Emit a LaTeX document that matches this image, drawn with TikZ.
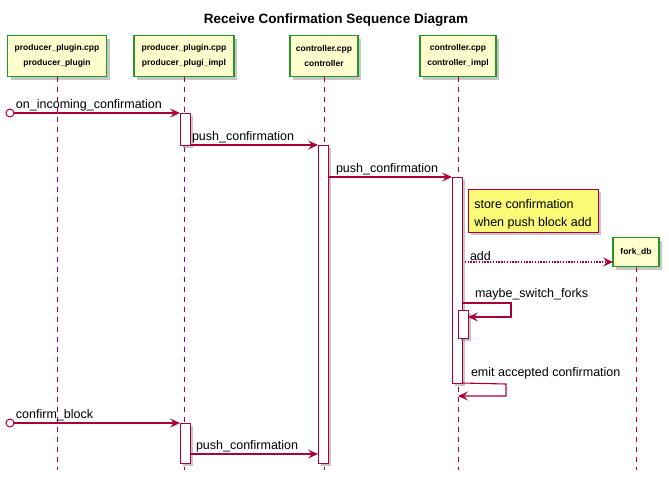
\documentclass[tikz,border=0pt]{standalone}
\usepackage{fontspec}
\setmainfont{Liberation Sans}
\usetikzlibrary{positioning,arrows.meta,shadows}

\definecolor{umlred}{HTML}{A80036}
\definecolor{umlbox}{HTML}{FEFECE}
\definecolor{umlgreen}{HTML}{229922}
\definecolor{umlnote}{HTML}{FBFB77}

\tikzset{umlshadow/.style={drop shadow={opacity=0.45,shadow xshift=3pt,shadow yshift=-3pt}}}

\begin{document}
\begin{tikzpicture}
[x=1pt,y=-1pt,
 every node/.style={inner sep=0pt,outer sep=0pt,font=\fontsize{12.5}{15}\selectfont},
 part/.style={draw=umlgreen,line width=1.1pt,fill=umlbox,align=center,minimum height=41pt,
              font=\bfseries\fontsize{8.5}{14.5}\selectfont,umlshadow},
 act/.style={draw=umlred,fill=white,minimum width=10pt,umlshadow},
 note/.style={draw=umlred,fill=umlnote,align=left,inner xsep=4pt,minimum width=130pt,
              minimum height=43pt,font=\fontsize{12.5}{18}\selectfont,umlshadow},
 start/.style={circle,draw=umlred,fill=white,line width=1pt,minimum size=8pt},
 life/.style={draw=umlred,line width=0.8pt,dash pattern=on 5pt off 5pt},
 msg/.style={draw=umlred,line width=1.1pt,-{Stealth[length=10pt,width=9pt,inset=4pt]}},
 lbl/.style={anchor=south west,xshift=2pt,yshift=2pt}]
\useasboundingbox (0,0) rectangle (669,483);
\node[font=\bfseries\fontsize{13.5}{16}\selectfont] (title) at (336,20) {Receive Confirmation Sequence Diagram};
% participants
\node[part,minimum width=99pt] (pp)   at (57,56)  {producer\_plugin.cpp\\producer\_plugin};
\node[part,minimum width=100pt] (ppi) at (184,56) {producer\_plugin.cpp\\producer\_plugi\_impl};
\node[part,minimum width=68pt] (ctl)  at (324,56) {controller.cpp\\controller};
\node[part,minimum width=76pt] (ctli) at (458,56) {controller.cpp\\controller\_impl};
\coordinate (bot) at (0,470);
% lifelines
\draw[life] (pp)   -- (pp |- bot);
\draw[life] (ppi)  -- (ppi |- bot);
\draw[life] (ctl)  -- (ctl |- bot);
\draw[life] (ctli) -- (ctli |- bot);
% activations
\node[act,anchor=north,minimum height=32pt]  (a1) at (185,113) {};
\node[act,anchor=north,minimum height=318pt] (a2) at (323,145) {};
\node[act,anchor=north,minimum height=206pt] (a3) at (457,177) {};
\node[act,anchor=north,minimum height=40pt]  (a5) at (185,423) {};
% messages
\node[start] (in1) at (10,113) {};
\draw[msg] (in1) -- (a1.north west) node[lbl,pos=0] {on\_incoming\_confirmation};
\draw[msg] (a1.south east) -- (a2.north west) node[lbl,pos=0] {push\_confirmation};
\draw[msg] (a2.east |- a3.north) -- (a3.north west) node[lbl,pos=0,xshift=6pt] {push\_confirmation};
\node[note,anchor=north west] (nt) at (468,189) {\rule{0pt}{16pt}store confirmation\\when push block add};
% fork_db is created by the add message
\node[part,minimum width=46pt,minimum height=29pt,font=\bfseries\fontsize{8.5}{10}\selectfont] (fdb) at (636,252) {fork\_db};
\draw[life] (fdb) -- (fdb |- bot);
\node[act,anchor=north,minimum height=28pt]  (a4) at (463,310) {};
\coordinate (add) at (0,262);
\draw[msg,line width=1.4pt,dash pattern=on 1.4pt off 1.4pt] (a3.east |- add) -- (fdb.west |- add) node[lbl,pos=0,xshift=6pt,yshift=-1pt] {add};
\coordinate (sw1) at (511,303);
\coordinate (sw2) at (511,317);
\draw[msg] (a3.east |- sw1) -- (sw1) -- (sw2) -- (a4.east |- sw2);
\node[lbl,anchor=south west] (swl) at (473,302) {maybe\_switch\_forks};
\coordinate (em1) at (506,384);
\coordinate (em2) at (506,396);
\draw[msg] (a3.south east) -- (em1) -- (em2) -- (ctli |- em2);
\node[lbl,anchor=south west] (eml) at (469,381) {emit accepted confirmation};
\node[start] (in2) at (10,423) {};
\draw[msg] (in2) -- (a5.north west) node[lbl,pos=0] {confirm\_block};
\coordinate (pc) at (0,454);
\draw[msg] (a5.east |- pc) -- (a2.west |- pc) node[lbl,pos=0,xshift=4pt] {push\_confirmation};
\end{tikzpicture}
\end{document}
